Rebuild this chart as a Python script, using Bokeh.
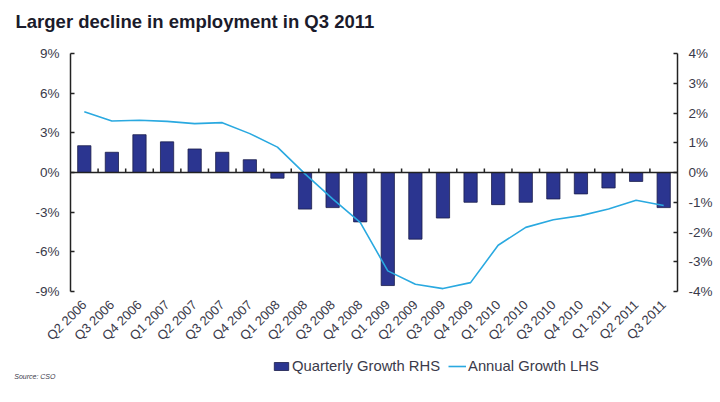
import numpy as np
from bokeh.plotting import figure
from bokeh.layouts import column
from bokeh.models import (Range1d, LinearAxis, FixedTicker, Span, Legend,
                          LegendItem, PrintfTickFormatter)
from bokeh.embed import file_html
from bokeh.resources import INLINE

quarters = ["Q2 2006", "Q3 2006", "Q4 2006", "Q1 2007", "Q2 2007", "Q3 2007",
            "Q4 2007", "Q1 2008", "Q2 2008", "Q3 2008", "Q4 2008", "Q1 2009",
            "Q2 2009", "Q3 2009", "Q4 2009", "Q1 2010", "Q2 2010", "Q3 2010",
            "Q4 2010", "Q1 2011", "Q2 2011", "Q3 2011"]
quarterly_growth_rhs = [0.90, 0.68, 1.27, 1.03, 0.79, 0.68, 0.43, -0.19,
                        -1.23, -1.18, -1.66, -3.80, -2.24, -1.53, -1.00, -1.08,
                        -1.00, -0.89, -0.72, -0.52, -0.30, -1.18]
annual_growth_lhs = [4.6, 3.9, 3.95, 3.87, 3.7, 3.77, 2.94, 1.92, -0.1, -2.0,
                     -3.77, -7.44, -8.45, -8.78, -8.33, -5.5, -4.15, -3.57,
                     -3.26, -2.76, -2.1, -2.5]
lhs_ticks = [-9, -6, -3, 0, 3, 6, 9]
rhs_ticks = [-4, -3, -2, -1, 0, 1, 2, 3, 4]

title_text = "Larger decline in employment in Q3 2011"
source_text = "Source: CSO"
bar_label = "Quarterly Growth RHS"
line_label = "Annual Growth LHS"

FONT = "Liberation Sans"
TEXT_COLOR = "#3a3a4a"
BAR_COLOR = "#2B3590"
LINE_COLOR = "#2AA9E0"

n = len(quarters)
idx = np.arange(n)


def bare(fig):
    fig.outline_line_color = None
    fig.xgrid.visible = False
    fig.ygrid.visible = False


# ---- title strip ----
tf = figure(width=720, height=40, output_backend="svg", toolbar_location=None,
            x_range=Range1d(0, 1), y_range=Range1d(0, 1), min_border=0,
            min_border_top=31, x_axis_location=None, y_axis_location=None)
bare(tf)
tf.title.text = title_text
tf.title.text_font = FONT
tf.title.text_font_size = "18.5px"
tf.title.text_font_style = "bold"
tf.title.text_color = "#1b1b2b"
tf.title.offset = -55
tf.title.standoff = 0

# ---- main chart ----
p = figure(width=720, height=315, output_backend="svg", toolbar_location=None,
           x_range=Range1d(-0.5, n - 0.5),
           y_range=Range1d(lhs_ticks[0], lhs_ticks[-1]),
           min_border_left=70, min_border_right=43, min_border_top=13,
           min_border_bottom=64, x_axis_location=None, y_axis_location=None)
p.title.visible = False
p.extra_y_ranges = {"rhs": Range1d(rhs_ticks[0], rhs_ticks[-1])}
bare(p)


def style_y(ax):
    ax.axis_line_color = "#222222"
    ax.axis_line_width = 1.5
    ax.major_tick_line_color = "#222222"
    ax.major_tick_line_width = 1.5
    ax.major_tick_in = 4
    ax.major_tick_out = 0
    ax.minor_tick_line_color = None
    ax.major_label_text_font = FONT
    ax.major_label_text_font_size = "13.5px"
    ax.major_label_text_color = TEXT_COLOR
    ax.major_label_standoff = 11
    ax.formatter = PrintfTickFormatter(format="%d%%")


left = LinearAxis(ticker=FixedTicker(ticks=lhs_ticks))
style_y(left)
p.add_layout(left, "left")
right = LinearAxis(y_range_name="rhs", ticker=FixedTicker(ticks=rhs_ticks))
style_y(right)
p.add_layout(right, "right")

bottom = LinearAxis(ticker=FixedTicker(ticks=list(idx)))
bottom.major_label_overrides = {int(i): q for i, q in zip(idx, quarters)}
bottom.major_label_orientation = np.pi / 4
bottom.axis_line_color = None
bottom.major_tick_line_color = None
bottom.minor_tick_line_color = None
bottom.major_label_text_font = FONT
bottom.major_label_text_font_size = "13px"
bottom.major_label_text_color = TEXT_COLOR
bottom.major_label_standoff = 5
p.add_layout(bottom, "below")

# zero line with category boundary ticks
p.add_layout(Span(location=0, dimension="width", line_color="#222222", line_width=1.5))
bounds = np.arange(n + 1) - 0.5
p.segment(x0=bounds[1:-1], y0=0, x1=bounds[1:-1], y1=0.3, line_color="#222222", line_width=1.5)

bar_style = dict(fill_color=BAR_COLOR, line_color="#1a1d4a", line_width=0.8)
line_style = dict(line_color=LINE_COLOR, line_width=1.6)
p.vbar(x=idx, top=quarterly_growth_rhs, width=0.48, y_range_name="rhs", **bar_style)
p.line(idx, annual_growth_lhs, **line_style)

# ---- legend + source strip ----
lf = figure(width=720, height=47, output_backend="svg", toolbar_location=None,
            x_range=Range1d(0, 1), y_range=Range1d(0, 47), min_border=0,
            x_axis_location=None, y_axis_location=None)
bare(lf)
lf.title.visible = False
# legend swatches only (no-value proxies with the same styles)
blank = np.full(n, np.nan)
lb = lf.vbar(x=idx, top=blank, width=0.48, **bar_style)
ll = lf.line(idx, blank, **line_style)
legend = Legend(items=[LegendItem(label=bar_label, renderers=[lb]),
                       LegendItem(label=line_label, renderers=[ll])],
                orientation="horizontal", location=(202, 28),
                label_text_font=FONT, label_text_font_size="14.8px",
                label_text_color=TEXT_COLOR, glyph_width=18, glyph_height=10,
                spacing=8, label_standoff=2, padding=0, margin=0,
                border_line_color=None, background_fill_alpha=0)
lf.add_layout(legend, "center")

src_axis = LinearAxis(ticker=FixedTicker(ticks=[26.5]))
src_axis.major_label_overrides = {26.5: source_text}
src_axis.axis_line_color = None
src_axis.major_tick_line_color = None
src_axis.minor_tick_line_color = None
src_axis.major_tick_in = 0
src_axis.major_tick_out = 0
src_axis.major_label_standoff = 15
src_axis.major_label_text_font = FONT
src_axis.major_label_text_font_size = "7px"
src_axis.major_label_text_font_style = "italic"
src_axis.major_label_text_color = TEXT_COLOR
lf.add_layout(src_axis, "left")

layout = column(tf, p, lf, spacing=0)
open("out.html", "w").write(file_html(layout, INLINE))
